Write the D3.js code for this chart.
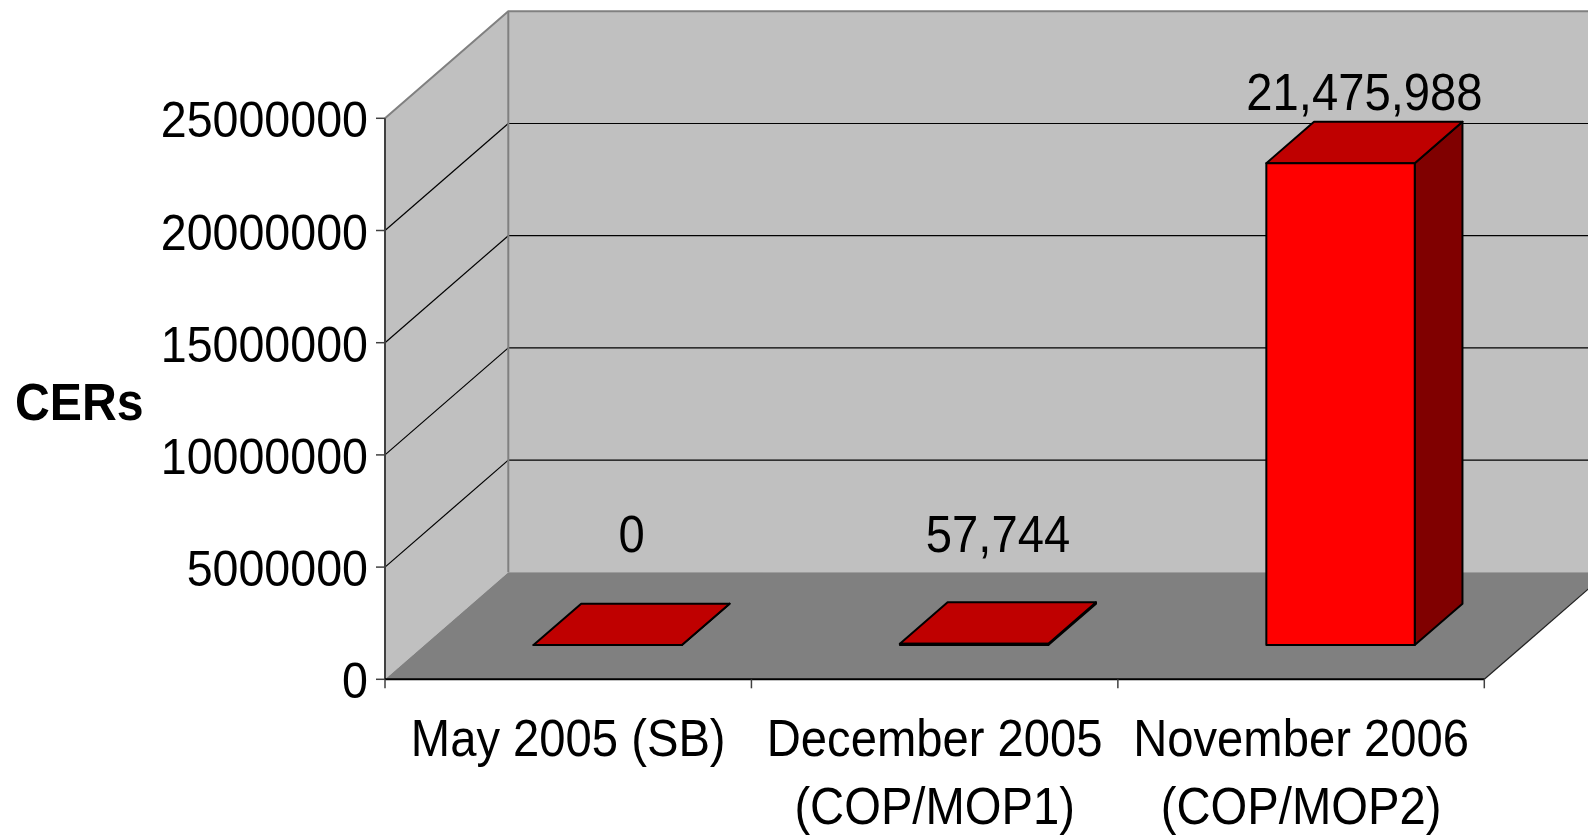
<!DOCTYPE html>
<html>
<head>
<meta charset="utf-8">
<script src="https://cdn.jsdelivr.net/npm/d3@7"></script>
<style>
  html, body { margin: 0; padding: 0; background: #fff; }
  svg { display: block; }
  text { font-family: "Liberation Sans", Arial, Helvetica, sans-serif; fill: #000; }
</style>
</head>
<body>
<svg id="chart" width="1588" height="835"></svg>
<script>
// ---- data ----
const categories = ["May 2005 (SB)", "December 2005 (COP/MOP1)", "November 2006 (COP/MOP2)"];
const values = [0, 57744, 21475988];
const yTicks = [0, 5000000, 10000000, 15000000, 20000000, 25000000];
const yTitle = "CERs";

// ---- layout ----
const W = 1588, H = 835;
const X0 = 385, X1 = 1484.3;         // front plane category axis
const YB = 679.3, YT = 118.3;        // front plane value axis
const DX = 123.3, DY = 107;          // depth projection offset
const D0 = 0.32, D1 = 0.707;         // bar depth extent (fraction of depth)
const FS = 47.2, SY = 1.08;          // font size and vertical stretch

const svg = d3.select("#chart");

const x = d3.scaleBand().domain(categories).range([X0, X1]).paddingInner(0.595).paddingOuter(0.2975);
const y = d3.scaleLinear().domain([0, 25000000]).range([YB, YT]);
const fmt = d3.format(",");

const pts = a => a.map(p => p.join(",")).join(" ");

// left wall
svg.append("polygon")
  .attr("points", pts([[X0, y(25000000)], [X0 + DX, y(25000000) - DY], [X0 + DX, y(0) - DY], [X0, y(0)]]))
  .attr("fill", "#c0c0c0");
// back wall
svg.append("polygon")
  .attr("points", pts([[X0 + DX, y(25000000) - DY], [X1 + DX, y(25000000) - DY], [X1 + DX, y(0) - DY], [X0 + DX, y(0) - DY]]))
  .attr("fill", "#c0c0c0");
// floor
svg.append("polygon")
  .attr("points", pts([[X0, y(0)], [X1, y(0)], [X1 + DX, y(0) - DY], [X0 + DX, y(0) - DY]]))
  .attr("fill", "#808080");

// gridlines
const inner = yTicks.filter(v => v > 0 && v < 25000000);
svg.append("g").selectAll("line.gb").data(inner).join("line")
  .attr("x1", X0 + DX).attr("x2", X1 + DX)
  .attr("y1", d => y(d) - DY).attr("y2", d => y(d) - DY)
  .attr("stroke", "#000").attr("stroke-width", 1.2);
svg.append("g").selectAll("line.gl").data(inner).join("line")
  .attr("x1", X0).attr("x2", X0 + DX)
  .attr("y1", d => y(d)).attr("y2", d => y(d) - DY)
  .attr("stroke", "#000").attr("stroke-width", 1.2);

// wall borders (grey)
svg.append("polyline")
  .attr("points", pts([[X0, y(25000000)], [X0 + DX, y(25000000) - DY], [X1 + DX, y(25000000) - DY]]))
  .attr("fill", "none").attr("stroke", "#808080").attr("stroke-width", 2);
svg.append("line")
  .attr("x1", X0 + DX).attr("x2", X0 + DX)
  .attr("y1", y(25000000) - DY).attr("y2", y(0) - DY)
  .attr("stroke", "#808080").attr("stroke-width", 2);
// floor right edge
svg.append("line")
  .attr("x1", X1).attr("y1", y(0)).attr("x2", X1 + DX).attr("y2", y(0) - DY)
  .attr("stroke", "#222").attr("stroke-width", 1.2);

// value axis line
svg.append("line")
  .attr("x1", X0).attr("x2", X0).attr("y1", y(25000000)).attr("y2", y(0))
  .attr("stroke", "#404040").attr("stroke-width", 2);
// value ticks + labels
const yt = svg.append("g");
yt.selectAll("line").data(yTicks).join("line")
  .attr("x1", X0 - 9).attr("x2", X0)
  .attr("y1", d => y(d)).attr("y2", d => y(d))
  .attr("stroke", "#404040").attr("stroke-width", 1.5);
yt.selectAll("text").data(yTicks).join("text")
  .attr("transform", d => `translate(${X0 - 17},${y(d) + 19}) scale(1,${SY})`)
  .attr("text-anchor", "end")
  .attr("font-size", FS - 0.6)
  .text(d => d3.format("d")(d));

// y title
svg.append("text")
  .attr("transform", `translate(15,420) scale(1,${SY - 0.02})`)
  .attr("font-size", FS + 1).attr("font-weight", "bold")
  .text(yTitle);

// category axis
svg.append("line")
  .attr("x1", X0).attr("x2", X1).attr("y1", y(0)).attr("y2", y(0))
  .attr("stroke", "#000").attr("stroke-width", 2);
const step = x.step();
const bounds = d3.range(categories.length + 1).map(i => X0 + i * step);
svg.append("g").selectAll("line").data(bounds).join("line")
  .attr("x1", d => d).attr("x2", d => d)
  .attr("y1", y(0)).attr("y2", y(0) + 9)
  .attr("stroke", "#404040").attr("stroke-width", 1.5);

// category labels with wrapping
const catG = svg.append("g");
categories.forEach(c => {
  const cx = x(c) + x.bandwidth() / 2;
  const words = c.split(" ");
  const probe = catG.append("text").attr("font-size", FS);
  const lines = [];
  let cur = "";
  words.forEach(w => {
    const test = cur ? cur + " " + w : w;
    probe.text(test);
    if (probe.node().getComputedTextLength() > step - 10 && cur) {
      lines.push(cur); cur = w;
    } else cur = test;
  });
  lines.push(cur);
  probe.remove();
  lines.forEach((ln, i) => {
    catG.append("text")
      .attr("transform", `translate(${cx},${756 + i * 68}) scale(1,${SY})`)
      .attr("text-anchor", "middle")
      .attr("font-size", FS)
      .text(ln);
  });
});

// bars
const ox0 = D0 * DX, oy0 = D0 * DY, ox1 = D1 * DX, oy1 = D1 * DY;
const bars = svg.append("g");
categories.forEach((c, i) => {
  const v = values[i];
  const xl = x(c), xr = xl + x.bandwidth();
  const yv = y(v), yb = y(0);
  bars.append("polygon")
    .attr("points", pts([[xr + ox0, yv - oy0], [xr + ox1, yv - oy1], [xr + ox1, yb - oy1], [xr + ox0, yb - oy0]]))
    .attr("fill", "#800000").attr("stroke", "#000").attr("stroke-width", 2).attr("stroke-linejoin", "round");
  bars.append("polygon")
    .attr("points", pts([[xl + ox0, yv - oy0], [xr + ox0, yv - oy0], [xr + ox1, yv - oy1], [xl + ox1, yv - oy1]]))
    .attr("fill", "#bf0000").attr("stroke", "#000").attr("stroke-width", 2).attr("stroke-linejoin", "round");
  bars.append("polygon")
    .attr("points", pts([[xl + ox0, yv - oy0], [xr + ox0, yv - oy0], [xr + ox0, yb - oy0], [xl + ox0, yb - oy0]]))
    .attr("fill", "#ff0000").attr("stroke", "#000").attr("stroke-width", 2).attr("stroke-linejoin", "round");
  // data label
  const dm = (D0 + D1) / 2;
  const lx = xl + x.bandwidth() / 2 + dm * DX;
  const ly = Math.min(yv - dm * DY - 32, yb - dm * DY - 72);
  bars.append("text")
    .attr("transform", `translate(${lx},${ly}) scale(1,${SY})`)
    .attr("text-anchor", "middle")
    .attr("font-size", FS)
    .text(fmt(v));
});
</script>
</body>
</html>
